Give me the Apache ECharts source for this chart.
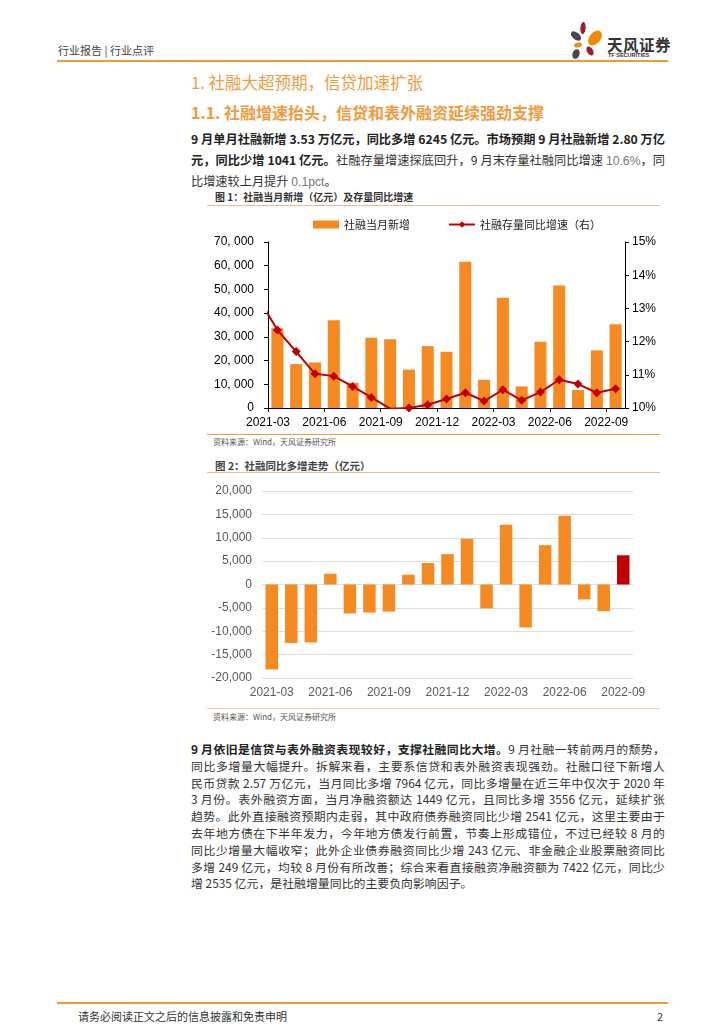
<!DOCTYPE html>
<html><head><meta charset="utf-8">
<script src="https://cdn.jsdelivr.net/npm/echarts@6/dist/echarts.min.js"></script>
<style>
html,body{margin:0;padding:0;background:#fff;}
#page{position:relative;width:724px;height:1024px;overflow:hidden;font-family:"Noto Sans CJK SC","Noto Sans",sans-serif;color:#333;}
.abs{position:absolute;white-space:nowrap;}
.bar{position:absolute;}
.para{position:absolute;left:191px;width:474px;}
.ln{display:block;white-space:nowrap;text-align:justify;text-align-last:justify;text-justify:inter-character;}
.ln.last{text-align-last:left;}
.b{font-weight:bold;color:#222;}
.thin{color:#777;font-family:"Liberation Sans",sans-serif;font-weight:normal;}
#chart{position:absolute;left:0;top:0;width:724px;height:1024px;}
</style></head>
<body><div id="page">
  <div class="abs" style="left:58px;top:42px;font-size:11px;color:#444;">行业报告 | 行业点评</div>
  <svg class="abs" style="left:566px;top:20px;" width="42" height="42" viewBox="0 0 42 42">
    <ellipse cx="17" cy="8" rx="2.6" ry="6" fill="#9e1b32" transform="rotate(5 17 8)"/>
    <ellipse cx="29" cy="18" rx="5.5" ry="8.5" fill="#f08a00" transform="rotate(40 29 18)"/>
    <ellipse cx="10" cy="16" rx="3.5" ry="6" fill="#474747" transform="rotate(-50 10 16)"/>
    <ellipse cx="12" cy="25" rx="4" ry="2.3" fill="#f08a00" transform="rotate(-15 12 25)"/>
    <ellipse cx="24" cy="31" rx="3" ry="5" fill="#9e1b32" transform="rotate(-30 24 31)"/>
    <ellipse cx="10" cy="34" rx="3.5" ry="5" fill="#474747" transform="rotate(20 10 34)"/>
  </svg>
  <div class="abs" style="left:607px;top:33px;font-size:15.5px;font-weight:bold;color:#333;letter-spacing:0.5px;">天风证券</div>
  <div class="abs" style="left:608px;top:52px;font-size:5.5px;color:#333;font-weight:bold;font-family:'Liberation Sans',sans-serif;">TF SECURITIES</div>
  <div class="bar" style="left:57px;top:60px;width:611px;height:2px;background:#f29b33;"></div>

  <div class="abs" style="left:191px;top:70px;font-size:16.5px;color:#f39a3d;">1. 社融大超预期，信贷加速扩张</div>
  <div class="abs" style="left:191px;top:100px;font-size:16px;font-weight:bold;color:#f39a3d;">1.1. 社融增速抬头，信贷和表外融资延续强劲支撑</div>

  <div class="para" style="top:129px;font-size:12.2px;line-height:20.5px;">
    <span class="ln b">9 月单月社融新增 3.53 万亿元，同比多增 6245 亿元。市场预期 9 月社融新增 2.80 万亿</span>
    <span class="ln"><span class="b">元，同比少增 1041 亿元。</span>社融存量增速探底回升，9 月末存量社融同比增速 <span class="thin">10.6%</span>，同</span>
    <span class="ln last">比增速较上月提升 <span class="thin">0.1pct</span>。</span>
  </div>

  <div class="abs" style="left:215px;top:189px;font-size:10px;font-weight:bold;color:#333;">图 1：社融当月新增（亿元）及存量同比增速</div>
  <div class="bar" style="left:207px;top:205px;width:453px;height:1px;background:#f7b98a;"></div>
  <div class="bar" style="left:207px;top:434px;width:453px;height:1px;background:#f29b33;"></div>
  <div class="abs" style="left:213px;top:436px;font-size:8px;color:#555;">资料来源：Wind，天风证券研究所</div>

  <div class="abs" style="left:215px;top:458px;font-size:10.5px;font-weight:bold;color:#444;">图 2：社融同比多增走势（亿元）</div>
  <div class="bar" style="left:207px;top:472px;width:453px;height:1px;background:#f7b98a;"></div>
  <div class="bar" style="left:207px;top:708px;width:453px;height:1px;background:#f7c9a8;"></div>
  <div class="abs" style="left:213px;top:711px;font-size:8px;color:#555;">资料来源：Wind，天风证券研究所</div>

  <div class="para" style="top:741px;font-size:11.9px;line-height:16.8px;">
    <span class="ln"><span class="b">9 月依旧是信贷与表外融资表现较好，支撑社融同比大增。</span>9 月社融一转前两月的颓势，</span>
    <span class="ln">同比多增量大幅提升。拆解来看，主要系信贷和表外融资表现强劲。社融口径下新增人</span>
    <span class="ln">民币贷款 2.57 万亿元，当月同比多增 7964 亿元，同比多增量在近三年中仅次于 2020 年</span>
    <span class="ln">3 月份。表外融资方面，当月净融资额达 1449 亿元，且同比多增 3556 亿元，延续扩张</span>
    <span class="ln">趋势。此外直接融资预期内走弱，其中政府债券融资同比少增 2541 亿元，这里主要由于</span>
    <span class="ln">去年地方债在下半年发力，今年地方债发行前置，节奏上形成错位，不过已经较 8 月的</span>
    <span class="ln">同比少增量大幅收窄；此外企业债券融资同比少增 243 亿元、非金融企业股票融资同比</span>
    <span class="ln">多增 249 亿元，均较 8 月份有所改善；综合来看直接融资净融资额为 7422 亿元，同比少</span>
    <span class="ln last">增 2535 亿元，是社融增量同比的主要负向影响因子。</span>
  </div>

  <div class="bar" style="left:57px;top:1002px;width:611px;height:2px;background:#f29b33;"></div>
  <div class="abs" style="left:78px;top:1008px;font-size:11px;color:#333;">请务必阅读正文之后的信息披露和免责申明</div>
  <div class="abs" style="left:657px;top:1008px;font-size:11px;color:#333;">2</div>

  <div id="chart"></div>
</div>
<script>
// ---- data ----
const months = ['2021-03','2021-04','2021-05','2021-06','2021-07','2021-08','2021-09','2021-10','2021-11','2021-12',
                '2022-01','2022-02','2022-03','2022-04','2022-05','2022-06','2022-07','2022-08','2022-09'];
const tickLabels = ['2021-03','2021-06','2021-09','2021-12','2022-03','2022-06','2022-09'];
// 社融当月新增（亿元）
const newFinancing = [33600,18500,19200,37000,10600,29600,29000,16200,26100,23700,
                      61700,11900,46500,9100,27900,51700,7600,24300,35300];
// 社融存量同比增速（%），with the preceding month (2021-02) that the line enters from
const prevGrowth = 13.3;
const stockGrowth = [12.35,11.7,11.03,10.96,10.65,10.32,9.98,10.0,10.1,10.27,
                     10.46,10.21,10.55,10.23,10.48,10.85,10.72,10.46,10.58];
// 社融同比多增（亿元）
const yoyChange = [-18200,-12500,-12400,2300,-6200,-6000,-5800,2100,4600,6500,
                   9800,-5100,12800,-9200,8400,14700,-3200,-5700,6245];

const ORANGE = '#F58A23', RED = '#C00000';
const fmtThousands = v => {
  const s = Math.abs(v).toString();
  const t = s.length > 3 ? s.slice(0, s.length - 3) + ',' + s.slice(-3) : s;
  return (v < 0 ? '-' : '') + t;
};

const linePts = [[-0.5, prevGrowth]].concat(stockGrowth.map((v, i) => [i + 0.5, v]));

const chart = echarts.init(document.getElementById('chart'), null, {renderer: 'canvas'});
chart.setOption({
  animation: false,
  backgroundColor: 'transparent',
  textStyle: {fontFamily: '"Liberation Sans","Noto Sans CJK SC",sans-serif'},
  legend: {
    left: 308, top: 214, itemGap: 38, itemWidth: 26, itemHeight: 8,
    textStyle: {fontSize: 11, color: '#222', fontFamily: '"Noto Sans CJK SC",sans-serif'},
    data: [
      {name: '社融当月新增', icon: 'rect'},
      {name: '社融存量同比增速（右）'}
    ]
  },
  grid: [
    {left: 268, top: 242, width: 357, height: 166},
    {left: 262, top: 491, width: 371, height: 187}
  ],
  xAxis: [
    {
      type: 'category', gridIndex: 0, data: months, boundaryGap: true, position: 'bottom',
      axisLine: {show: true, lineStyle: {color: '#000', width: 1}},
      axisTick: {show: false}, axisLabel: {show: false}, splitLine: {show: false}
    },
    {
      type: 'value', gridIndex: 0, min: 0, max: 19, interval: 3, position: 'bottom',
      axisLine: {show: false},
      axisTick: {show: true, length: 4, lineStyle: {color: '#000'}},
      axisLabel: {
        show: true, margin: 9, fontSize: 12, color: '#000', showMaxLabel: false,
        formatter: v => (v % 3 === 0 && tickLabels[v / 3]) ? tickLabels[v / 3] : ''
      },
      splitLine: {show: false}
    },
    {
      type: 'category', gridIndex: 1, data: months, boundaryGap: true,
      axisLine: {show: true, onZero: false, lineStyle: {color: '#d9d9d9'}},
      axisTick: {show: false},
      axisLabel: {interval: 2, margin: 9, fontSize: 12, color: '#595959'},
      splitLine: {show: false}
    }
  ],
  yAxis: [
    {
      type: 'value', gridIndex: 0, min: 0, max: 70000, interval: 10000, position: 'left',
      axisLine: {show: true, lineStyle: {color: '#000'}},
      axisTick: {show: true, length: 4, lineStyle: {color: '#000'}},
      axisLabel: {margin: 14, fontSize: 12, color: '#000',
        formatter: v => fmtThousands(v).replace(',', ', ')},
      splitLine: {show: false}
    },
    {
      type: 'value', gridIndex: 0, min: 10, max: 15, interval: 1, position: 'right',
      axisLine: {show: true, lineStyle: {color: '#000'}},
      axisTick: {show: true, length: 4, lineStyle: {color: '#000'}},
      axisLabel: {margin: 7, fontSize: 12, color: '#000', formatter: '{value}%'},
      splitLine: {show: false}
    },
    {
      type: 'value', gridIndex: 1, min: -20000, max: 20000, interval: 5000,
      axisLine: {show: false}, axisTick: {show: false},
      axisLabel: {margin: 10, fontSize: 12, color: '#595959', formatter: v => fmtThousands(v)},
      splitLine: {show: true, lineStyle: {color: '#dedede', width: 1}}
    }
  ],
  series: [
    {
      name: '社融当月新增', type: 'bar', xAxisIndex: 0, yAxisIndex: 0,
      data: newFinancing, barWidth: '64%', itemStyle: {color: ORANGE}
    },
    {
      name: '社融存量同比增速（右）', type: 'line', xAxisIndex: 1, yAxisIndex: 1,
      data: linePts, clip: true, symbol: 'diamond', symbolSize: 9,
      lineStyle: {color: RED, width: 2}, itemStyle: {color: RED}, z: 5
    },
    {
      name: '社融同比多增', type: 'bar', xAxisIndex: 2, yAxisIndex: 2,
      barWidth: '64%',
      data: yoyChange.map((v, i) => i === yoyChange.length - 1 ? {value: v, itemStyle: {color: RED}} : v),
      itemStyle: {color: ORANGE}
    }
  ]
});
</script>
</body></html>
